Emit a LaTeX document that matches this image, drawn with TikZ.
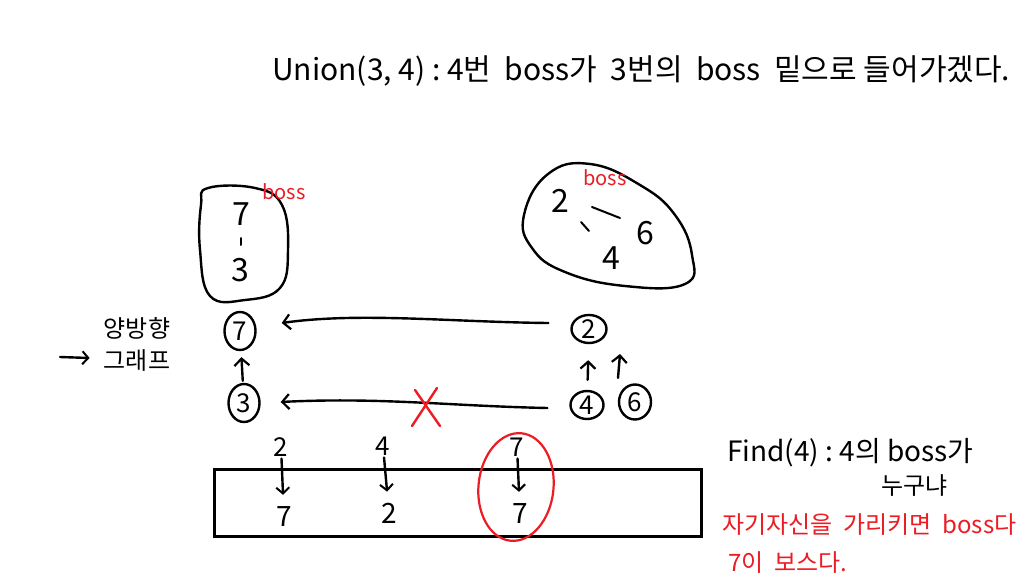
\documentclass[tikz,border=0pt]{standalone}
\usepackage{fontspec}
\newfontfamily\hand{Noto Sans CJK KR}
\usetikzlibrary{arrows.meta,calc,shapes.geometric}
\definecolor{handred}{RGB}{236,28,36}
\newcommand{\fsz}[1]{\hand\fontsize{#1}{#1}\selectfont}
\tikzset{
  ink/.style={line width=2.4pt, line cap=round, line join=round},
  arr/.style={ink, -{Straight Barb[length=7pt,width=15pt,line width=2.2pt]}},
  cnode/.style={ellipse, draw, ink, inner sep=0pt, font=\fsz{26}},
  digit/.style={inner sep=0pt, font=\fsz{32}},
  small/.style={inner sep=0pt, font=\fsz{24}},
  redtxt/.style={inner sep=0pt, text=handred, font=\fsz{24}},
  bosslbl/.style={inner sep=0pt, text=handred, font=\fsz{20}},
  txt/.style={inner sep=0pt, font=\fsz{28}},
  tarr/.style={arr, -{Straight Barb[length=6pt,width=13pt,line width=2pt]}},
}
\begin{document}
\begin{tikzpicture}[x=1pt,y=-1pt]
\useasboundingbox (0,0) rectangle (1035,586);
\fill[white] (0,0) rectangle (1035,586);

% title
\node[inner sep=0pt, font=\fsz{30}, anchor=west] (title) at (272,71)
  {Union(3,~4)~:~4번~~boss가~~3번의~~boss~~밑으로~들어가겠다.};

% left group blob
\draw[ink] plot[smooth cycle, tension=0.7] coordinates
  {(208,188) (255,188) (282,205) (288,250) (280,288) (245,300) (210,296) (200,250) (201,205)};
\node[digit] (g7) at (241,214) {7};
\node[digit] (g3) at (240,270) {3};
\draw[line width=2pt, line cap=round] (g7) ++(0,24) coordinate (tk1) -- ++(0,7) coordinate (tk2);
\node[bosslbl] (lboss) at (284,192) {boss};

% right group blob
\draw[ink] plot[smooth cycle, tension=0.75] coordinates
  {(524,215) (548,174) (590,164) (640,185) (675,215) (692,255) (685,284) (625,286) (565,272) (532,248)};
\node[digit] (r2) at (560,201) {2};
\node[digit] (r6) at (645,233) {6};
\node[digit] (r4) at (611,258) {4};
\draw[line width=2pt, line cap=round] ($(r2)+(32,6)$) coordinate (d1) -- ($(r2)+(60,17)$) coordinate (d2);
\draw[line width=2pt, line cap=round] ($(r2)+(21,21)$) coordinate (d3) -- ($(r2)+(29,30)$) coordinate (d4);
\node[bosslbl] (rboss) at (605,178) {boss};

% circles
\node[cnode, minimum width=31pt, minimum height=38pt] (c7) at (240,331) {7};
\node[cnode, minimum width=31pt, minimum height=38pt] (c3) at (244,403) {3};
\node[cnode, minimum width=35pt, minimum height=28pt] (c2) at (589,329) {2};
\node[cnode, minimum width=33pt, minimum height=28pt] (c4) at (587,405) {4};
\node[cnode, minimum width=32pt, minimum height=35pt] (c6) at (635,402) {6};

% arrows between circles
\draw[arr, shorten <=2pt, shorten >=6pt] (c3) -- (c7);
\draw[arr, shorten <=10pt, shorten >=16pt] (c4) -- (c2);
\coordinate (s6) at (618,378);
\coordinate (e6) at (620,354);
\draw[arr] (s6) -- (e6);

\draw[arr] ($(c2.west)+(-22,-6)$) .. controls (450,322) and (360,312) .. ($(c7.east)+(25,-8)$);
\draw[arr] ($(c4.west)+(-22,3)$) .. controls (450,406) and (380,397) .. ($(c3.east)+(20,-1)$);

% red X
\draw[handred, ink] (415,390) coordinate (x1) -- (440,426) coordinate (x2);
\draw[handred, ink] (437,388) coordinate (x3) -- (412,426) coordinate (x4);

% left note
\node[small] (bi1) at (137,328) {양방향};
\node[small] (bi2) at (137,361) {그래프};
\coordinate (la) at (60,357);
\draw[tarr] (la) -- ($(bi2.west)+(-14,-3)$);

% array
\node[draw, line width=3.4pt, minimum width=487pt, minimum height=67pt, inner sep=0pt] (tbl) at (458,503) {};
\node[small, font=\fsz{26}] (t2) at (281,447) {2};
\node[small, font=\fsz{26}] (t4) at (383,446) {4};
\node[small, font=\fsz{26}] (t7) at (517,447) {7};
\node[small, font=\fsz{28}] (b7) at (284,517) {7};
\node[small, font=\fsz{28}] (b2) at (389,513) {2};
\node[small, font=\fsz{28}] (b7b) at (520,514) {7};
\draw[tarr, shorten <=2pt, shorten >=12pt] (t2) -- (b7);
\draw[tarr, shorten <=2pt, shorten >=11pt] (t4) -- (b2);
\draw[tarr, shorten <=2pt, shorten >=12pt] (t7) -- (b7b);
\node[ellipse, draw=handred, line width=2.2pt, minimum width=75pt, minimum height=108pt, rotate=-6] (ring) at (516,487) {};

% find text
\node[txt, anchor=west] (find) at (727,453) {Find(4)~:~4의~boss가};
\node[small, anchor=west] (who) at (881,486) {누구냐};
\node[redtxt, anchor=west] (red1) at (722,525) {자기자신을~~가리키면~~boss다};
\node[redtxt, anchor=west] (red2) at (728,563) {7이~~보스다.};
\end{tikzpicture}
\end{document}
